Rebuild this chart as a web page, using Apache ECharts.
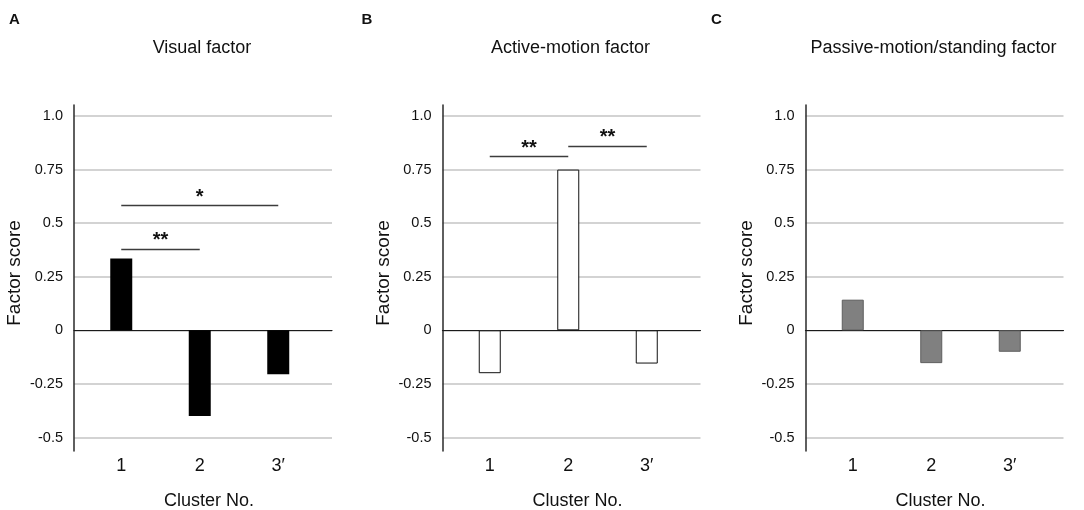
<!DOCTYPE html>
<html>
<head>
<meta charset="utf-8">
<title>Factor scores by cluster</title>
<script src="https://cdn.jsdelivr.net/npm/echarts@6.0.0/dist/echarts.min.js"></script>
<style>
  html, body { margin: 0; padding: 0; background: #fff; }
  #main { width: 1084px; height: 510px; }
</style>
</head>
<body>
<div id="main"></div>
<script>
// data
const clusters = ['1', '2', '3\u2032'];
const tickLabels = ['-0.5', '-0.25', '0', '0.25', '0.5', '0.75', '1.0'];
const visualScores = [0.335, -0.40, -0.205];
const activeScores = [-0.20, 0.75, -0.155];
const passiveScores = [0.143, -0.153, -0.10];
// significance brackets: [from cluster, to cluster, height, mark]
const visualSig = [[0, 2, 0.583, '*'], [0, 1, 0.38, '**']];
const activeSig = [[0, 1, 0.81, '**'], [1, 2, 0.861, '**']];
const passiveSig = [];

const FONT = '"Liberation Sans", Arial, Helvetica, sans-serif';

const panels = [
  { letter: 'A', title: 'Visual factor', scores: visualScores, sig: visualSig, x0: 74,
    bar: { color: '#000000', borderColor: '#000000', borderWidth: 0 } },
  { letter: 'B', title: 'Active-motion factor', scores: activeScores, sig: activeSig, x0: 442.5,
    bar: { color: '#ffffff', borderColor: '#111111', borderWidth: 1 } },
  { letter: 'C', title: 'Passive-motion/standing factor', scores: passiveScores, sig: passiveSig, x0: 805.5,
    bar: { color: '#808080', borderColor: '#5e5e5e', borderWidth: 1 } }
];
const letterX = [14.5, 367, 716.5];

const W = 258, TOP = 116, H = 321.5;

const grid = [], xAxis = [], yAxis = [], series = [], graphic = [];

panels.forEach((p, i) => {
  const g = i * 3;
  // background grid: gridlines, tick labels, zero line
  grid.push({ left: p.x0, top: TOP, width: W, height: H, containLabel: false, outerBoundsMode: 'none' });
  // bar grid: category positions
  grid.push({ left: p.x0 + 8, top: TOP, width: 235.5, height: H, containLabel: false, outerBoundsMode: 'none' });
  // axis-line grid: y axis line slightly longer than the gridlines
  grid.push({ left: p.x0, top: 105, width: W, height: 346, containLabel: false, outerBoundsMode: 'none' });

  xAxis.push({
    gridIndex: g, type: 'value', min: 0, max: 1,
    axisLine: { show: true, onZero: true, lineStyle: { color: '#1a1a1a', width: 1.2 } },
    axisTick: { show: false }, axisLabel: { show: false }, splitLine: { show: false }
  });
  xAxis.push({
    gridIndex: g + 1, type: 'category', data: clusters,
    axisLine: { show: false }, axisTick: { show: false },
    axisLabel: { interval: 0, margin: 20, fontSize: 18, color: '#111', fontFamily: FONT }
  });
  xAxis.push({ gridIndex: g + 2, type: 'value', show: false, min: 0, max: 1 });

  yAxis.push({
    gridIndex: g, type: 'value', min: -0.5, max: 1, interval: 0.25,
    axisLine: { show: false }, axisTick: { show: false },
    axisLabel: {
      margin: 11, fontSize: 14.5, color: '#111', fontFamily: FONT,
      formatter: v => tickLabels[Math.round((v + 0.5) / 0.25)]
    },
    splitLine: { show: true, lineStyle: { color: '#c4c4c4', width: 1.5 } }
  });
  yAxis.push({ gridIndex: g + 1, type: 'value', min: -0.5, max: 1, show: false });
  yAxis.push({
    gridIndex: g + 2, type: 'value', min: 0, max: 1,
    axisLine: { show: true, lineStyle: { color: '#2a2a2a', width: 1.5 } },
    axisTick: { show: false }, axisLabel: { show: false }, splitLine: { show: false }
  });

  series.push({
    type: 'bar', xAxisIndex: g + 1, yAxisIndex: g + 1,
    data: p.scores, barWidth: 22, itemStyle: p.bar, silent: true,
    markLine: {
      silent: true, symbol: 'none', animation: false,
      lineStyle: { color: '#3c3c3c', width: 1.3, type: 'solid' },
      label: { show: true, position: 'insideMiddleTop', distance: -2, fontSize: 20, fontWeight: 'bold', color: '#111', fontFamily: FONT },
      data: p.sig.map(s => [
        { coord: [s[0], s[2]], name: s[3], label: { formatter: s[3] } },
        { coord: [s[1], s[2]] }
      ])
    }
  });

  graphic.push({ type: 'text', x: letterX[i], y: 20,
    style: { text: p.letter, fontSize: 15, fontWeight: 'bold', fontFamily: FONT, fill: '#111', align: 'center', verticalAlign: 'middle' } });
  graphic.push({ type: 'text', x: p.x0 + 128, y: 48,
    style: { text: p.title, fontSize: 18, fontFamily: FONT, fill: '#111', align: 'center', verticalAlign: 'middle' } });
  graphic.push({ type: 'text', x: p.x0 - 59, y: 273, rotation: Math.PI / 2,
    style: { text: 'Factor score', fontSize: 19, fontFamily: FONT, fill: '#111', align: 'center', verticalAlign: 'middle' } });
  graphic.push({ type: 'text', x: p.x0 + 135, y: 501,
    style: { text: 'Cluster No.', fontSize: 18, fontFamily: FONT, fill: '#111', align: 'center', verticalAlign: 'middle' } });
});

const chart = echarts.init(document.getElementById('main'), null, { renderer: 'canvas' });
chart.setOption({
  animation: false,
  backgroundColor: '#ffffff',
  grid, xAxis, yAxis, series, graphic
});
</script>
</body>
</html>
